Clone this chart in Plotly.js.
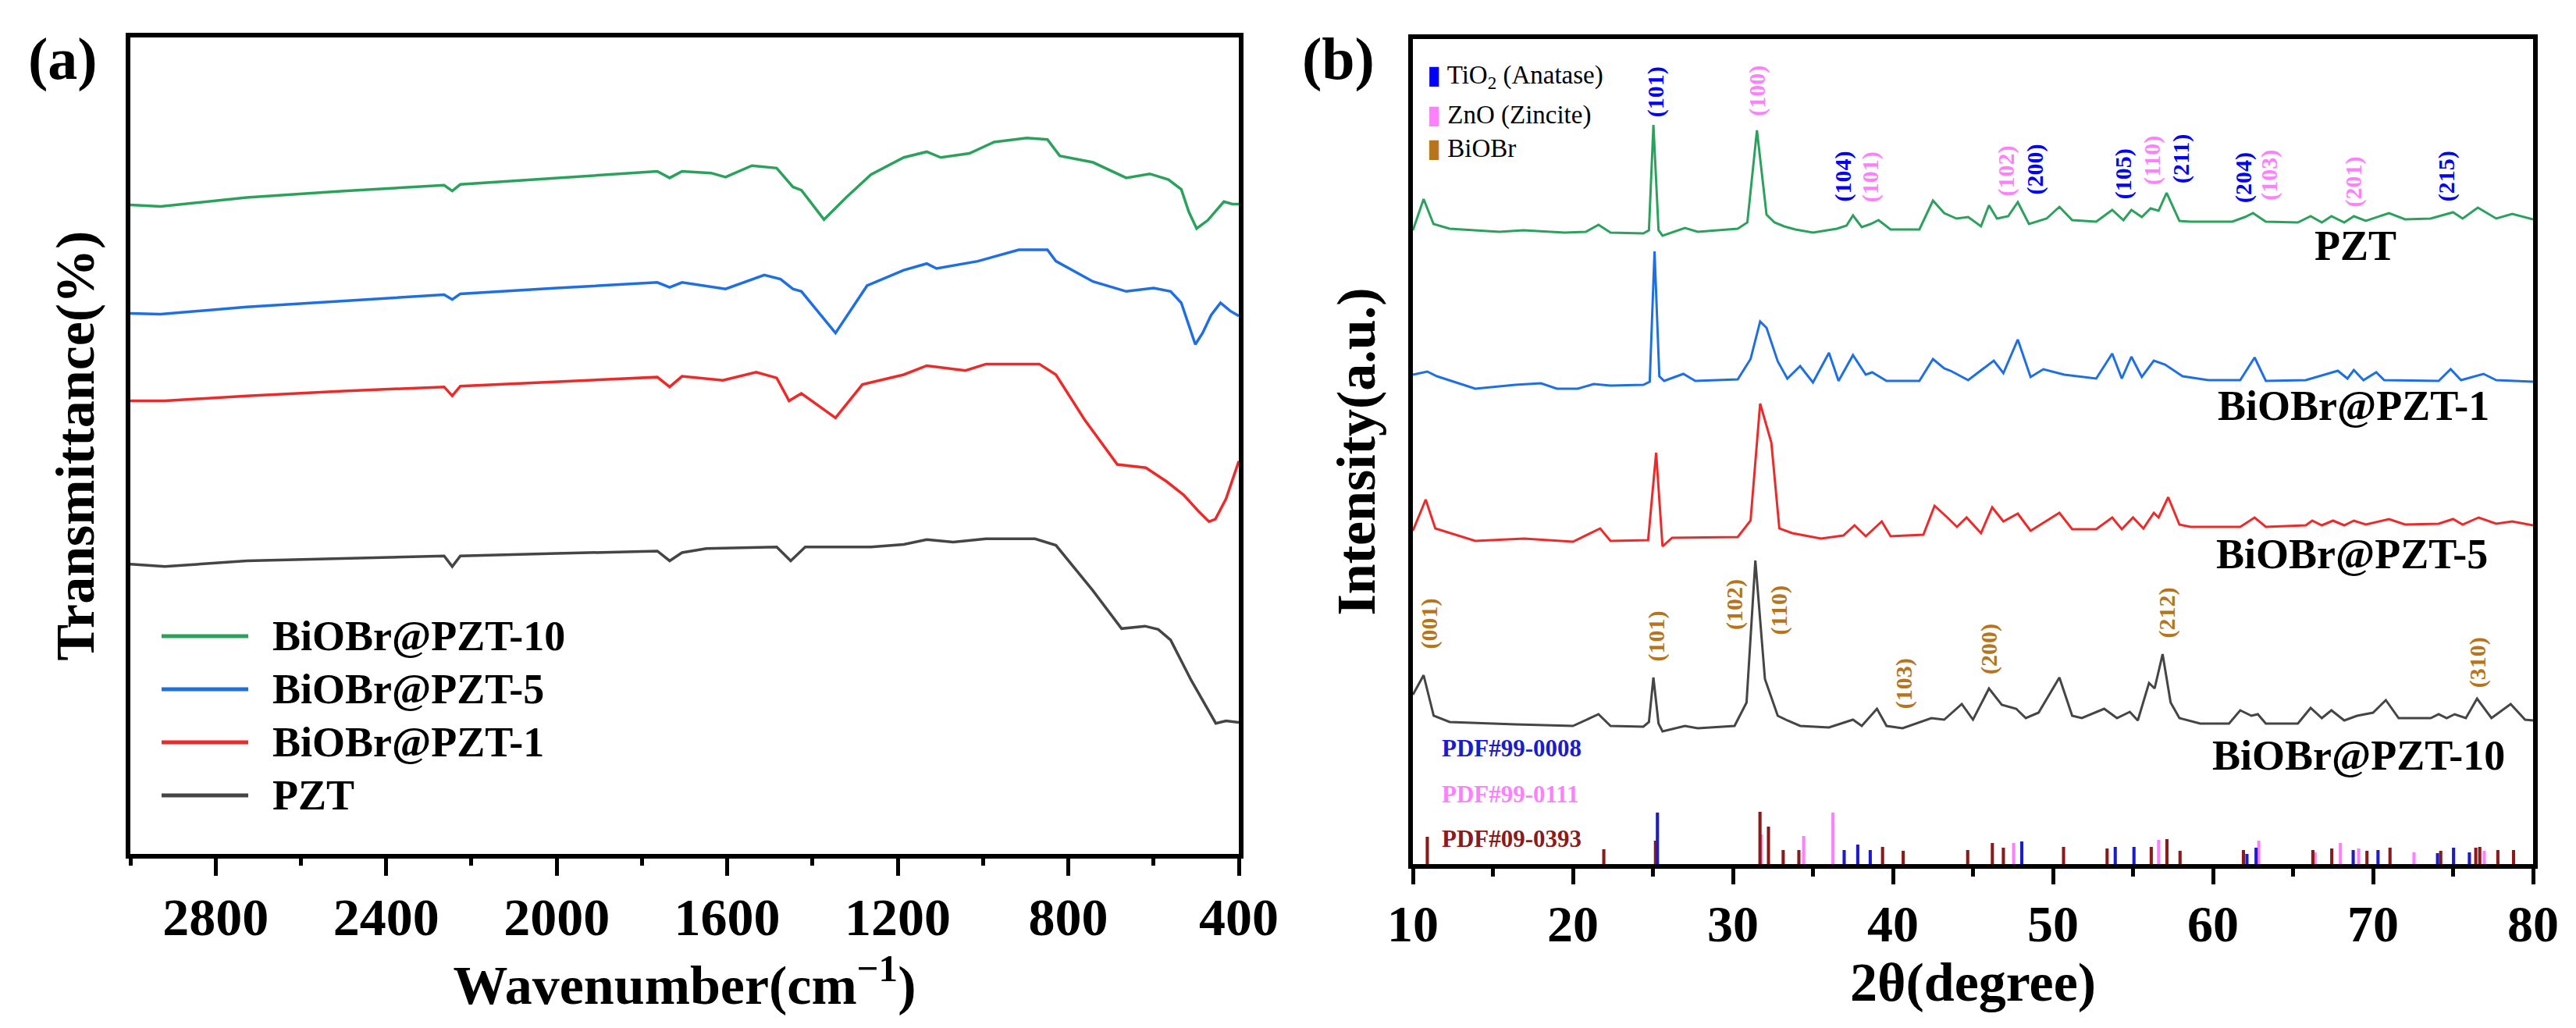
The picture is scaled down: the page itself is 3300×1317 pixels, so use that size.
<!DOCTYPE html>
<html>
<head>
<meta charset="utf-8">
<script src="https://cdn.plot.ly/plotly-3.0.1.min.js"></script>
<style>
html, body { margin: 0; padding: 0; background: #fff; }
#chart { width: 3300px; height: 1317px; }
</style>
</head>
<body>
<div id="chart"></div>
<script>
// ---------- (a) FTIR spectra ----------
const ftirNames = ['BiOBr@PZT-10', 'BiOBr@PZT-5', 'BiOBr@PZT-1', 'PZT'];
const ftirColors = ['#2ba25c', '#1e6fe6', '#f02828', '#454545'];

const wn10 = [3000, 2929, 2727, 2500, 2264, 2245, 2226, 2000, 1764, 1735, 1706, 1638, 1604, 1542, 1484, 1446, 1426, 1373, 1321, 1263,
  1186, 1132, 1099, 1032, 974, 897, 849, 820, 742, 664, 609, 565, 535, 517, 499, 473, 435, 415, 400];
const tr10 = [79.5, 79.3, 80.4, 81.2, 81.9, 81.2, 82.0, 82.8, 83.6, 82.8, 83.6, 83.4, 82.9, 84.3, 84.0, 81.7, 81.3, 77.7, 80.4, 83.2,
  85.3, 86.0, 85.3, 85.8, 87.2, 87.7, 87.5, 85.5, 84.7, 82.8, 83.3, 82.6, 81.4, 78.6, 76.6, 77.6, 79.9, 79.6, 79.6];

const wn5 = [3000, 2929, 2727, 2500, 2264, 2245, 2226, 2000, 1764, 1735, 1706, 1604, 1513, 1475, 1446, 1426, 1346, 1272, 1186, 1132,
  1109, 1012, 916, 849, 829, 742, 664, 600, 560, 535, 515, 502, 485, 465, 443, 420, 400];
const tr5 = [66.2, 66.1, 67.0, 67.7, 68.5, 67.9, 68.6, 69.3, 70.0, 69.4, 70.0, 69.2, 70.9, 70.4, 69.2, 68.9, 63.8, 69.6, 71.5, 72.3,
  71.7, 72.6, 74.0, 74.0, 72.6, 70.1, 68.9, 69.3, 68.9, 67.5, 64.5, 62.4, 63.8, 66.0, 67.5, 66.5, 65.9];

const wn1 = [3000, 2919, 2727, 2500, 2264, 2245, 2226, 2000, 1764, 1735, 1706, 1610, 1532, 1484, 1455, 1426, 1346, 1283, 1186, 1132,
  1070, 1041, 993, 868, 829, 762, 685, 618, 569, 530, 495, 470, 455, 430, 400];
const tr1 = [55.5, 55.5, 56.1, 56.7, 57.2, 56.1, 57.3, 57.8, 58.4, 57.2, 58.5, 58.0, 59.0, 58.3, 55.5, 56.4, 53.4, 57.5, 58.7, 59.8,
  59.4, 59.2, 60.0, 60.0, 58.7, 53.2, 47.7, 47.3, 45.6, 44.0, 42.0, 40.7, 41.0, 43.5, 48.1];

const wn0 = [3000, 2919, 2727, 2500, 2264, 2245, 2226, 2000, 1764, 1735, 1706, 1649, 1484, 1451, 1417, 1263, 1186, 1132, 1070, 993,
  878, 829, 743, 675, 620, 589, 560, 512, 454, 430, 400];
const tr0 = [35.5, 35.2, 35.9, 36.2, 36.5, 35.2, 36.5, 36.8, 37.1, 35.9, 36.9, 37.4, 37.6, 35.9, 37.6, 37.6, 37.9, 38.5, 38.2, 38.6,
  38.6, 37.8, 32.3, 27.6, 27.9, 27.5, 26.2, 21.3, 16.0, 16.3, 16.1];

// ---------- (b) XRD patterns ----------
const xrdNames = ['PZT', 'BiOBr@PZT-1', 'BiOBr@PZT-5', 'BiOBr@PZT-10'];
const xrdColors = ['#2ba25c', '#1e6fe6', '#f02828', '#454545'];

const tt0 = [10.0, 10.67, 11.29, 12.3, 15.4, 16.9, 19.5, 20.8, 21.6, 22.35, 24.4, 24.75, 25.03, 25.35, 25.6, 27.0, 27.8, 30.3, 30.9, 31.5,
  32.1, 32.6, 33.2, 33.9, 35.0, 36.5, 37.1, 37.5, 38.05, 38.6, 39.1, 39.85, 41.65, 42.5, 43.2, 43.97, 44.7, 45.5, 46.0, 46.5,
  47.2, 47.8, 48.5, 49.6, 50.4, 51.2, 52.7, 53.7, 54.4, 54.9, 55.55, 56.1, 56.6, 57.1, 57.9, 58.6, 61.2, 62.0, 62.5, 63.3,
  65.3, 66.1, 66.8, 67.4, 68.2, 68.8, 69.55, 71.0, 72.0, 73.6, 75.0, 75.6, 76.55, 77.7, 78.7, 80.0];
const int0 = [812, 852, 820, 814, 810, 812, 809, 810, 819, 809, 808, 812, 947, 812, 805, 815, 810, 814, 822, 940,
  832, 822, 817, 813, 809, 814, 818, 831, 816, 820, 825, 813, 813, 850, 834, 827, 829, 817, 844, 827,
  830, 848, 820, 827, 842, 825, 823, 838, 825, 838, 829, 840, 837, 860, 824, 823, 823, 829, 834, 823,
  822, 830, 822, 830, 822, 830, 824, 834, 826, 827, 835, 827, 841, 827, 833, 826];

const tt1 = [10.0, 10.9, 11.5, 13.9, 16.4, 18.0, 19.0, 20.3, 21.3, 22.35, 24.4, 24.8, 25.1, 25.4, 25.7, 26.9, 27.65, 28.8, 30.3, 31.1,
  31.7, 32.1, 32.8, 33.4, 34.2, 35.0, 36.0, 36.6, 37.5, 38.3, 38.7, 39.6, 41.65, 42.5, 43.2, 43.6, 44.7, 46.3, 46.9, 47.8,
  48.6, 49.4, 50.7, 52.7, 53.7, 54.3, 54.9, 55.55, 56.3, 57.0, 58.1, 59.7, 61.7, 62.6, 63.3, 65.8, 67.8, 68.4, 68.8, 69.4,
  70.2, 70.7, 74.1, 74.85, 75.5, 76.9, 77.7, 80.0];
const int1 = [627, 631, 625, 609, 614, 616, 609, 609, 615, 613, 614, 618, 785, 625, 619, 628, 619, 620, 621, 647,
  695, 687, 644, 622, 638, 617, 655, 619, 652, 627, 630, 619, 619, 647, 635, 632, 620, 645, 629, 672,
  624, 634, 627, 622, 654, 622, 650, 624, 645, 640, 625, 620, 620, 649, 619, 620, 632, 622, 633, 620,
  630, 620, 619, 634, 620, 628, 620, 618];

const tt5 = [10.0, 10.8, 11.4, 13.9, 16.95, 20.0, 21.7, 22.35, 24.7, 25.2, 25.6, 26.2, 30.3, 31.1, 31.7, 32.4, 32.9, 33.7, 35.5, 36.9,
  37.6, 38.3, 39.3, 39.85, 41.9, 42.6, 43.4, 44.0, 44.6, 45.5, 46.2, 46.9, 47.8, 48.6, 50.4, 51.2, 52.7, 53.7, 54.3, 55.0,
  55.65, 56.3, 56.6, 57.2, 57.9, 58.6, 61.7, 62.6, 63.3, 65.8, 66.2, 66.8, 67.5, 68.2, 68.8, 69.55, 71.0, 72.0, 74.1, 75.0,
  75.6, 76.6, 77.7, 78.7, 80.0];
const int5 = [427, 467, 430, 414, 417, 413, 430, 414, 415, 527, 407, 418, 419, 440, 590, 540, 430, 424, 417, 421,
  434, 420, 439, 420, 422, 459, 444, 432, 444, 424, 457, 439, 449, 427, 450, 429, 429, 444, 429, 444,
  430, 450, 444, 470, 435, 432, 432, 444, 432, 434, 440, 434, 440, 434, 440, 435, 442, 435, 436, 442,
  435, 444, 436, 439, 434];

const tt10 = [10.0, 10.67, 11.3, 12.3, 16.4, 20.0, 21.6, 22.35, 24.4, 24.75, 25.03, 25.35, 25.6, 27.0, 27.8, 30.1, 30.85, 31.4, 32.0, 32.8,
  33.4, 34.2, 36.0, 37.5, 38.05, 39.0, 39.6, 40.6, 42.4, 43.2, 44.3, 45.0, 46.0, 46.8, 47.7, 48.3, 49.1, 50.4, 51.2, 51.8,
  53.2, 54.0, 54.8, 55.3, 56.0, 56.35, 56.85, 57.35, 57.9, 59.2, 61.0, 61.7, 62.4, 62.8, 63.3, 65.3, 66.1, 66.8, 67.4, 68.2,
  69.0, 70.0, 70.8, 71.6, 73.6, 74.1, 74.6, 75.1, 75.8, 76.5, 77.4, 78.6, 79.5, 80.0];
const int10 = [217, 242, 190, 182, 179, 177, 192, 177, 176, 182, 239, 180, 170, 177, 174, 177, 207, 389, 237, 190,
  184, 177, 175, 185, 177, 199, 177, 174, 187, 185, 205, 185, 225, 204, 199, 187, 194, 239, 190, 187,
  199, 187, 195, 184, 232, 225, 269, 207, 187, 180, 180, 197, 190, 192, 180, 180, 200, 187, 197, 184,
  190, 194, 210, 187, 187, 192, 187, 192, 187, 212, 187, 205, 185, 184];

// reference patterns (stick heights in a.u.)
const pdfNames = ['PDF#99-0008', 'PDF#99-0111', 'PDF#09-0393'];
const pdfColors = ['#1c1ccc', '#ff80ff', '#8b1a1a'];
const tio2Pos = [25.28, 36.95, 37.80, 38.58, 48.05, 53.89, 55.06, 62.12, 62.69, 68.76, 70.31, 74.03, 75.03, 76.02];
const tio2Int = [66, 18, 25, 18, 29, 22, 22, 13, 21, 18, 18, 14, 21, 15];
const znoPos = [31.77, 34.42, 36.25, 47.54, 56.60, 62.86, 66.38, 67.96, 69.10, 72.56, 76.95];
const znoInt = [38, 36, 66, 27, 31, 30, 15, 27, 20, 15, 17];
const biobrPos = [10.90, 21.93, 25.16, 31.69, 32.22, 33.14, 34.12, 39.35, 40.64, 44.67, 46.21, 46.90, 50.66, 53.38, 56.14, 57.12, 57.94,
  61.90, 66.24, 67.42, 69.62, 71.06, 74.23, 76.42, 76.67, 77.80, 78.78];
const biobrInt = [35, 19, 30, 67, 48, 18, 18, 22, 17, 18, 27, 21, 22, 20, 22, 32, 17, 18, 18, 20, 17, 21, 17, 21, 22, 18, 18];

// hkl labels
const tio2Hkl = ['(101)', '(104)', '(200)', '(105)', '(211)', '(204)', '(215)'];
const tio2HklX = [25.18, 36.9, 48.9, 54.4, 58.0, 61.9, 74.6];
const tio2HklY = [989, 881, 890, 884, 903, 880, 881];
const znoHkl = ['(100)', '(101)', '(102)', '(110)', '(103)', '(201)'];
const znoHklX = [31.5, 38.6, 47.05, 56.2, 63.5, 68.8];
const znoHklY = [991, 880, 888, 901, 883, 874];
const biobrHkl = ['(001)', '(101)', '(102)', '(110)', '(103)', '(200)', '(212)', '(310)'];
const biobrHklX = [11.0, 25.2, 30.1, 32.9, 40.7, 46.0, 57.1, 76.55];
const biobrHklY = [308, 292, 332, 325, 231, 275, 322, 258];

const phaseNames = ['TiO<sub>2</sub> (Anatase)', 'ZnO (Zincite)', 'BiOBr'];
const phaseColors = ['#0000ff', '#ff80ff', '#b8741a'];

// ---------- build ----------
const FONT = 'Liberation Serif, Times New Roman, serif';
const W = 3300, H = 1317;
const px = x => x / W;
const py = y => 1 - y / H;

const data = [];
const ftirX = [wn10, wn5, wn1, wn0];
const ftirY = [tr10, tr5, tr1, tr0];
ftirNames.forEach((n, i) => {
  data.push({
    x: ftirX[i], y: ftirY[i], type: 'scatter', mode: 'lines', name: n,
    line: {color: ftirColors[i], width: 3.5}, showlegend: false, xaxis: 'x', yaxis: 'y'
  });
});

const xrdX = [tt0, tt1, tt5, tt10];
const xrdY = [int0, int1, int5, int10];
xrdNames.forEach((n, i) => {
  data.push({
    x: xrdX[i], y: xrdY[i], type: 'scatter', mode: 'lines', name: n,
    line: {color: xrdColors[i], width: 3}, showlegend: false, xaxis: 'x2', yaxis: 'y2'
  });
});

// sticks: ZnO under BiOBr under TiO2
[[znoPos, znoInt, pdfColors[1]], [biobrPos, biobrInt, pdfColors[2]], [tio2Pos, tio2Int, pdfColors[0]]].forEach(s => {
  data.push({
    x: s[0], y: s[1], type: 'bar', width: 0.2, base: 0,
    marker: {color: s[2], opacity: 1, line: {width: 0}},
    showlegend: false, xaxis: 'x2', yaxis: 'y2'
  });
});

const annotations = [];
const shapes = [];

// panel letters
annotations.push({text: '<b>(a)</b>', x: px(80), y: py(76), xref: 'paper', yref: 'paper', xanchor: 'center', yanchor: 'middle',
  showarrow: false, font: {family: FONT, size: 76, color: '#000'}});
annotations.push({text: '<b>(b)</b>', x: px(1715), y: py(75), xref: 'paper', yref: 'paper', xanchor: 'center', yanchor: 'middle',
  showarrow: false, font: {family: FONT, size: 76, color: '#000'}});

// legend (a)
ftirNames.forEach((n, i) => {
  const ly = 815 + i * 68;
  shapes.push({type: 'line', xref: 'paper', yref: 'paper', x0: px(207), x1: px(318), y0: py(ly), y1: py(ly),
    line: {color: ftirColors[i], width: 5}});
  annotations.push({text: '<b>' + n + '</b>', x: px(347), y: py(ly), xref: 'paper', yref: 'paper', xanchor: 'left',
    yanchor: 'middle', showarrow: false, font: {family: FONT, size: 54, color: '#000'}});
});

// legend (b)
phaseNames.forEach((n, i) => {
  const ly = [98, 147, 190][i];
  annotations.push({text: '<span style="color:' + phaseColors[i] + '">▮</span> ' + n, x: px(1826), y: py(ly),
    xref: 'paper', yref: 'paper', xanchor: 'left', yanchor: 'middle', showarrow: false,
    font: {family: FONT, size: 33, color: '#000'}});
});

// hkl labels
function hkl(labels, xs, ys, color) {
  labels.forEach((t, i) => {
    annotations.push({text: '<b>' + t + '</b>', x: xs[i], y: ys[i], xref: 'x2', yref: 'y2', textangle: -90,
      xanchor: 'center', yanchor: 'middle', showarrow: false, font: {family: FONT, size: 30, color: color}});
  });
}
hkl(tio2Hkl, tio2HklX, tio2HklY, phaseColors[0]);
hkl(znoHkl, znoHklX, znoHklY, phaseColors[1]);
hkl(biobrHkl, biobrHklX, biobrHklY, phaseColors[2]);

// sample names in (b)
const sampleLabelX = [68.9, 68.8, 68.7, 69.1];
const sampleLabelY = [792, 587, 397, 139];
xrdNames.forEach((n, i) => {
  annotations.push({text: '<b>' + n + '</b>', x: sampleLabelX[i], y: sampleLabelY[i], xref: 'x2', yref: 'y2',
    xanchor: 'center', yanchor: 'middle', showarrow: false, font: {family: FONT, size: 54, color: '#000'}});
});

// PDF card names
[149, 90, 33].forEach((ly, i) => {
  annotations.push({text: '<b>' + pdfNames[i] + '</b>', x: 11.7, y: ly, xref: 'x2', yref: 'y2', xanchor: 'left',
    yanchor: 'middle', showarrow: false, font: {family: FONT, size: 31, color: pdfColors[i]}});
});

const titleFont = {family: FONT, size: 70, color: '#000', weight: 'bold'};
const frame = {showline: true, linewidth: 6, linecolor: '#000', mirror: true, showgrid: false, zeroline: false};

const layout = {
  width: W, height: H,
  margin: {l: 0, r: 0, t: 0, b: 0},
  paper_bgcolor: '#fff', plot_bgcolor: '#fff',
  showlegend: false,
  barmode: 'overlay',
  xaxis: Object.assign({}, frame, {
    domain: [px(167), px(1587)], range: [3000, 400], anchor: 'y',
    tick0: 400, dtick: 400, ticks: 'outside', ticklen: 22, tickwidth: 5, tickcolor: '#000',
    minor: {tick0: 400, dtick: 200, ticks: 'outside', ticklen: 9, tickwidth: 5, tickcolor: '#000'},
    tickfont: {family: FONT, size: 68, color: '#000', weight: 'bold'}, ticklabelstandoff: -6,
    title: {text: 'Wavenumber(cm<sup>−1</sup>)', font: titleFont, standoff: 0}
  }),
  yaxis: Object.assign({}, frame, {
    domain: [py(1094), py(48)], range: [0, 100], anchor: 'x',
    ticks: '', showticklabels: false,
    title: {text: 'Transmittance(%)', font: titleFont, standoff: 20}
  }),
  xaxis2: Object.assign({}, frame, {
    domain: [px(1810), px(3245)], range: [10, 80], anchor: 'y2',
    tick0: 10, dtick: 10, ticks: 'outside', ticklen: 20, tickwidth: 5, tickcolor: '#000',
    minor: {tick0: 5, dtick: 5, ticks: 'outside', ticklen: 10, tickwidth: 5, tickcolor: '#000'},
    tickfont: {family: FONT, size: 66, color: '#000', weight: 'bold'}, ticklabelstandoff: -6,
    title: {text: '2θ(degree)', font: titleFont, standoff: 8}
  }),
  yaxis2: Object.assign({}, frame, {
    domain: [py(1107), py(50)], range: [0, 1057], anchor: 'x2',
    ticks: '', showticklabels: false,
    title: {text: 'Intensity(a.u.)', font: titleFont, standoff: 22}
  }),
  annotations: annotations,
  shapes: shapes
};

Plotly.newPlot('chart', data, layout, {displayModeBar: false, staticPlot: true});
</script>
</body>
</html>
